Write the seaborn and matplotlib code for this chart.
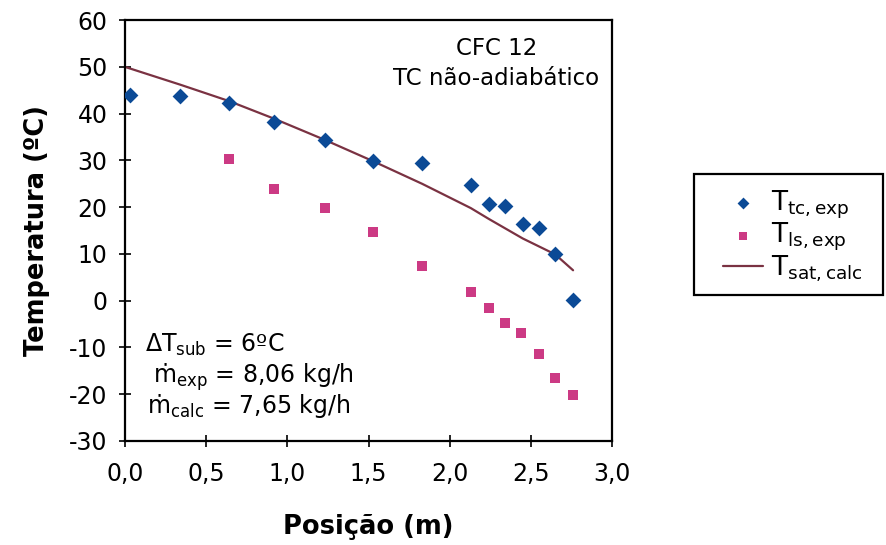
import matplotlib
matplotlib.use("Agg")
import matplotlib.pyplot as plt
import matplotlib.patches as mpatches
import seaborn as sns
import pandas as pd

# Data
x_tc = [0.03, 0.34, 0.64, 0.92, 1.23, 1.53, 1.83, 2.13, 2.24, 2.34, 2.45, 2.55, 2.65, 2.76]
t_tc = [44.0, 43.8, 42.2, 38.2, 34.4, 29.9, 29.5, 24.8, 20.7, 20.3, 16.3, 15.6, 9.9, 0.2]

x_ls = [0.64, 0.92, 1.23, 1.53, 1.83, 2.13, 2.24, 2.34, 2.44, 2.55, 2.65, 2.76]
t_ls = [30.2, 23.9, 19.8, 14.6, 7.4, 1.9, -1.5, -4.7, -7.0, -11.4, -16.5, -20.2]

x_sat = [0.0, 0.34, 0.64, 0.92, 1.23, 1.53, 1.83, 2.13, 2.24, 2.34, 2.45, 2.55, 2.65, 2.76]
t_sat = [50.0, 46.2, 42.7, 38.9, 34.4, 29.8, 25.0, 19.8, 17.5, 15.5, 13.3, 11.6, 9.9, 6.5]

x_ticks = [0.0, 0.5, 1.0, 1.5, 2.0, 2.5, 3.0]
x_ticklabels = ["0,0", "0,5", "1,0", "1,5", "2,0", "2,5", "3,0"]
y_ticks = [-30, -20, -10, 0, 10, 20, 30, 40, 50, 60]

df_tc = pd.DataFrame({"x": x_tc, "y": t_tc})
df_ls = pd.DataFrame({"x": x_ls, "y": t_ls})
df_sat = pd.DataFrame({"x": x_sat, "y": t_sat})

sns.set_style("white")
plt.rcParams["font.family"] = ["DejaVu Sans"]
plt.rcParams["mathtext.fontset"] = "dejavusans"
plt.rcParams["axes.unicode_minus"] = False
plt.rcParams["text.color"] = "black"
plt.rcParams["axes.labelcolor"] = "black"
plt.rcParams["xtick.color"] = "black"
plt.rcParams["ytick.color"] = "black"

fig = plt.figure(figsize=(8.87, 5.45), dpi=100)
ax = fig.add_axes([0.141, 0.191, 0.549, 0.772])

c_tc = "#0B4A96"
c_ls = "#CC3A84"
c_sat = "#7A3242"

sns.lineplot(data=df_sat, x="x", y="y", ax=ax, color=c_sat, linewidth=1.6,
             label=r"T$_{\mathregular{sat,calc}}$", sort=False)
sns.scatterplot(data=df_tc, x="x", y="y", ax=ax, marker="D", color=c_tc, s=65,
                edgecolor=c_tc, linewidth=0, label=r"T$_{\mathregular{tc,exp}}$", zorder=3)
sns.scatterplot(data=df_ls, x="x", y="y", ax=ax, marker="s", color=c_ls, s=50,
                edgecolor=c_ls, linewidth=0, label=r"T$_{\mathregular{ls,exp}}$", zorder=3)

handles, labels = ax.get_legend_handles_labels()
if ax.get_legend() is not None:
    ax.get_legend().remove()

ax.set_xlim(0, 3.0)
ax.set_ylim(-30, 60)
ax.set_xticks(x_ticks)
ax.set_xticklabels(x_ticklabels)
ax.set_yticks(y_ticks)
ax.tick_params(axis="both", direction="inout", length=9, width=1.2, labelsize=17,
               colors="black", bottom=True, left=True)
ax.tick_params(axis="x", pad=11)
ax.tick_params(axis="y", pad=8)
for s in ax.spines.values():
    s.set_visible(True)
    s.set_color("black")
    s.set_linewidth(1.6)

ax.set_xlabel("Posição (m)", fontsize=18.5, fontweight="bold", labelpad=20)
ax.set_ylabel("Temperatura (ºC)", fontsize=18.5, fontweight="bold", labelpad=14)

ax.text(0.762, 0.897, "CFC 12\nTC não-adiabático", transform=ax.transAxes,
        ha="center", va="center", fontsize=16.5, linespacing=1.35)

ax.text(0.041, 0.211, r"$\Delta$T$_{\mathregular{sub}}$ = 6ºC", transform=ax.transAxes,
        ha="left", va="baseline", fontsize=17)
ax.text(0.058, 0.138, r"ṁ$_{\mathregular{exp}}$ = 8,06 kg/h", transform=ax.transAxes,
        ha="left", va="baseline", fontsize=17)
ax.text(0.045, 0.0665, r"ṁ$_{\mathregular{calc}}$ = 7,65 kg/h", transform=ax.transAxes,
        ha="left", va="baseline", fontsize=17)

# legend frame drawn as a box in figure pixels (left 694, right 883, top 174, bottom 295)
W, H = 887.0, 545.0
frame = mpatches.Rectangle((694 / W, 1 - 295 / H), (883 - 694) / W, (295 - 174) / H,
                           transform=fig.transFigure, fill=False, edgecolor="black",
                           linewidth=1.6, zorder=1)
fig.patches.append(frame)

order = [1, 2, 0]
leg = fig.legend([handles[i] for i in order], [labels[i] for i in order],
                 loc="center", bbox_to_anchor=(793 / W, 1 - 236 / H),
                 bbox_transform=fig.transFigure, borderaxespad=0,
                 fontsize=19, frameon=False,
                 handlelength=1.5, handletextpad=0.3, labelspacing=0.0, borderpad=0.2,
                 markerscale=0.75)

fig.savefig("out.png", dpi=100, facecolor="white")
